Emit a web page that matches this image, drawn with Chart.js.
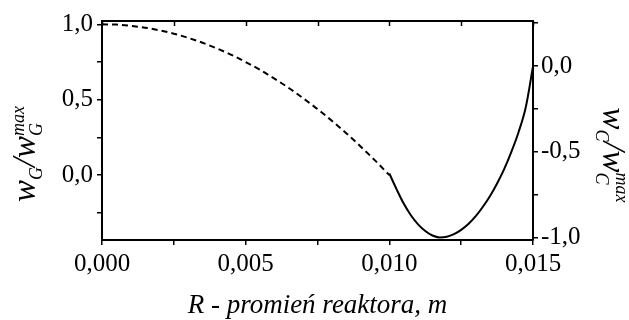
<!DOCTYPE html>
<html>
<head>
<meta charset="utf-8">
<script src="https://cdn.jsdelivr.net/npm/chart.js@4/dist/chart.umd.min.js"></script>
<style>
  html, body { margin: 0; padding: 0; background: #fff; }
</style>
</head>
<body>
<canvas id="myChart" width="629" height="320"></canvas>
<script>
// gas phase profile (left axis), dashed
const radius_g = [0, 0.0005, 0.001, 0.0015, 0.002, 0.0025, 0.003, 0.0035, 0.004, 0.0045, 0.005,
  0.0055, 0.006, 0.0065, 0.007, 0.0075, 0.008, 0.0085, 0.009, 0.0095, 0.010];
const wg = [1.000, 0.998, 0.990, 0.978, 0.960, 0.938, 0.910, 0.878, 0.840, 0.798, 0.750,
  0.698, 0.640, 0.578, 0.510, 0.438, 0.360, 0.278, 0.190, 0.098, 0.000];

// catalyst layer profile (right axis), solid
const radius_c = [0.0100, 0.01025, 0.0105, 0.01075, 0.0110, 0.01125, 0.0115, 0.01175, 0.0120,
  0.01225, 0.0125, 0.01275, 0.0130, 0.01325, 0.0135, 0.01375, 0.0140, 0.01425, 0.0145, 0.01475, 0.0150];
const wc = [-0.626, -0.717, -0.801, -0.869, -0.922, -0.961, -0.987, -0.998, -0.994,
  -0.979, -0.954, -0.920, -0.876, -0.821, -0.758, -0.684, -0.599, -0.498, -0.384, -0.239, -0.003];

// ticks
const xTicks = [0, 0.0025, 0.005, 0.0075, 0.010, 0.0125, 0.015];
const xLabels = [0, 0.005, 0.010, 0.015];
const leftTicks = [-0.25, 0, 0.25, 0.5, 0.75, 1.0];
const leftLabels = [0, 0.5, 1.0];
const rightTicks = [-1.0, -0.75, -0.5, -0.25, 0, 0.25];
const rightLabels = [-1.0, -0.5, 0];

const serif = '"Liberation Serif", "Times New Roman", serif';
Chart.defaults.color = '#000';
Chart.defaults.font.family = serif;

function isIn(list, v) {
  return list.some((l) => Math.abs(l - v) < 1e-9);
}
function fmt(v, d) {
  let s = v.toFixed(d).replace('.', ',');
  if (s.startsWith('-') && Math.abs(v) < 1e-9) s = s.substring(1);
  return s;
}
function setTicks(list) {
  return (scale) => {
    scale.ticks = list.map((v) => ({ value: v }));
  };
}
function gridOpts() {
  return { display: true, drawOnChartArea: false, drawTicks: true, tickLength: 5, color: '#000', lineWidth: 1.5 };
}

// draws w_G / w_G^max style labels
function drawRich(ctx, parts, cy, baseX, angle) {
  ctx.save();
  ctx.translate(baseX, cy);
  ctx.rotate(angle);
  ctx.fillStyle = '#000';
  ctx.textBaseline = 'alphabetic';
  ctx.textAlign = 'left';
  let pos = [];
  let x = 0, lastStart = 0;
  parts.forEach((p) => {
    ctx.font = 'italic ' + p.s + 'px ' + serif;
    const w = ctx.measureText(p.t).width;
    if (p.stack) {
      pos.push({ p: p, x: lastStart });
      x = Math.max(x, lastStart + w);
    } else {
      pos.push({ p: p, x: x });
      lastStart = x;
      x += w;
    }
  });
  const total = x;
  pos.forEach((o) => {
    ctx.font = 'italic ' + o.p.s + 'px ' + serif;
    ctx.fillText(o.p.t, o.x - total / 2, o.p.dy || 0);
  });
  ctx.restore();
}

const framePlugin = {
  id: 'frame',
  afterDraw(chart) {
    const ctx = chart.ctx;
    const a = chart.chartArea;
    const xs = chart.scales.x;
    ctx.save();
    ctx.strokeStyle = '#000';
    ctx.lineWidth = 2;
    ctx.beginPath();
    ctx.moveTo(a.left - 1, a.top);
    ctx.lineTo(a.right + 1, a.top);
    ctx.stroke();
    ctx.lineWidth = 1.5;
    xTicks.forEach((v) => {
      const px = Math.round(xs.getPixelForValue(v)) + 0.5;
      ctx.beginPath();
      ctx.moveTo(px, a.top);
      ctx.lineTo(px, a.top + 5);
      ctx.stroke();
    });
    ctx.restore();

    // axis titles
    ctx.save();
    ctx.fillStyle = '#000';
    ctx.font = 'italic 27px ' + serif;
    ctx.textAlign = 'center';
    ctx.textBaseline = 'alphabetic';
    ctx.fillText('R - promień reaktora, m', (a.left + a.right) / 2, 313);
    ctx.restore();

    drawRich(ctx, [
      { t: 'w', s: 33 },
      { t: 'G', s: 18, dy: 7 },
      { t: '/', s: 33 },
      { t: 'w', s: 33 },
      { t: 'G', s: 18, dy: 7 },
      { t: 'max', s: 18, dy: -11, stack: true },
    ], 154, 35, -Math.PI / 2);

    drawRich(ctx, [
      { t: 'w', s: 33 },
      { t: 'C', s: 18, dy: 7 },
      { t: '/', s: 33 },
      { t: 'w', s: 33 },
      { t: 'C', s: 18, dy: 7 },
      { t: 'max', s: 18, dy: -13, stack: true },
    ], 155, 603, Math.PI / 2);
  },
};

const ctx = document.getElementById('myChart');
new Chart(ctx, {
  type: 'scatter',
  data: {
    datasets: [
      {
        label: 'wG',
        data: radius_g.map((r, i) => ({ x: r, y: wg[i] })),
        yAxisID: 'y',
        showLine: true,
        borderColor: '#000',
        borderWidth: 2,
        borderDash: [6, 4],
        pointRadius: 0,
        cubicInterpolationMode: 'monotone',
      },
      {
        label: 'wC',
        data: radius_c.map((r, i) => ({ x: r, y: wc[i] })),
        yAxisID: 'y2',
        showLine: true,
        borderColor: '#000',
        borderWidth: 2,
        pointRadius: 0,
        cubicInterpolationMode: 'monotone',
      },
    ],
  },
  options: {
    responsive: false,
    animation: false,
    devicePixelRatio: 1,
    layout: { padding: { top: 21, left: 0, right: 0, bottom: 0 } },
    plugins: {
      legend: { display: false },
      tooltip: { enabled: false },
    },
    scales: {
      x: {
        type: 'linear',
        position: 'bottom',
        min: 0,
        max: 0.015,
        afterBuildTicks: setTicks(xTicks),
        afterFit: (s) => { s.height = 80; },
        grid: gridOpts(),
        border: { display: true, color: '#000', width: 2 },
        ticks: {
          font: { size: 25 },
          padding: 4,
          autoSkip: false,
          maxRotation: 0,
          callback: (v) => (isIn(xLabels, v) ? fmt(v, 3) : ''),
        },
      },
      y: {
        type: 'linear',
        position: 'left',
        min: -0.43,
        max: 1.022,
        afterBuildTicks: setTicks(leftTicks),
        afterFit: (s) => { s.width = 102; },
        grid: gridOpts(),
        border: { display: true, color: '#000', width: 2 },
        ticks: {
          font: { size: 25 },
          padding: 4,
          callback: (v) => (isIn(leftLabels, v) ? fmt(v, 1) : ''),
        },
      },
      y2: {
        type: 'linear',
        position: 'right',
        min: -1.013,
        max: 0.262,
        afterBuildTicks: setTicks(rightTicks),
        afterFit: (s) => { s.width = 96; },
        grid: gridOpts(),
        border: { display: true, color: '#000', width: 2 },
        ticks: {
          font: { size: 25 },
          padding: 3,
          callback: (v) => (isIn(rightLabels, v) ? fmt(v, 1) : ''),
        },
      },
    },
  },
  plugins: [framePlugin],
});
</script>
</body>
</html>
